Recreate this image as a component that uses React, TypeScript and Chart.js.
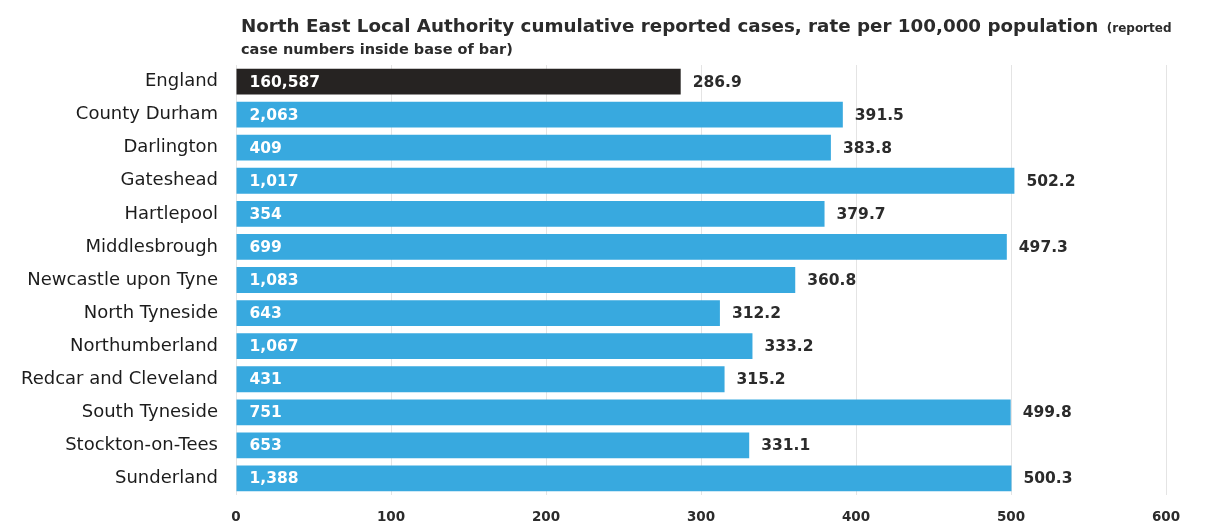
import React, { useEffect, useRef } from "react";
import { Chart, registerables } from "chart.js";

Chart.register(...registerables);

const categories = [
  "England",
  "County Durham",
  "Darlington",
  "Gateshead",
  "Hartlepool",
  "Middlesbrough",
  "Newcastle upon Tyne",
  "North Tyneside",
  "Northumberland",
  "Redcar and Cleveland",
  "South Tyneside",
  "Stockton-on-Tees",
  "Sunderland",
];

const rates = [286.9, 391.5, 383.8, 502.2, 379.7, 497.3, 360.8, 312.2, 333.2, 315.2, 499.8, 331.1, 500.3];

const cases = [160587, 2063, 409, 1017, 354, 699, 1083, 643, 1067, 431, 751, 653, 1388];

const xTicks = [0, 100, 200, 300, 400, 500, 600];

const titleMain = "North East Local Authority cumulative reported cases, rate per 100,000 population";
const titleSmall = "(reported";
const titleLine2 = "case numbers inside base of bar)";

const ENGLAND_COLOR = "#262322";
const LA_COLOR = "#38a9df";
const TEXT_COLOR = "#2b2b2b";
const LABEL_COLOR = "#1c1c1c";
const FONT = "'DejaVu Sans', sans-serif";

const labelPlugin = {
  id: "barLabels",
  afterDatasetsDraw(chart: any) {
    const ctx = chart.ctx;
    const meta = chart.getDatasetMeta(0);
    ctx.save();
    ctx.textBaseline = "middle";
    ctx.textAlign = "left";
    ctx.font = `bold 15.5px ${FONT}`;
    meta.data.forEach((bar: any, i: number) => {
      ctx.fillStyle = TEXT_COLOR;
      ctx.fillText(rates[i].toFixed(1), bar.x + 12, bar.y + 1);
      ctx.fillStyle = "#ffffff";
      ctx.fillText(cases[i].toLocaleString("en-US"), bar.base + 13, bar.y + 1);
    });
    ctx.restore();
  },
};

const titlePlugin = {
  id: "mixedTitle",
  afterDraw(chart: any) {
    const ctx = chart.ctx;
    ctx.save();
    ctx.textBaseline = "alphabetic";
    ctx.textAlign = "left";
    ctx.fillStyle = TEXT_COLOR;
    ctx.font = `bold 18.3px ${FONT}`;
    const x0 = 241;
    ctx.fillText(titleMain, x0, 32);
    const w = ctx.measureText(titleMain + " ").width;
    ctx.font = `bold 12px ${FONT}`;
    ctx.fillText(titleSmall, x0 + w + 2, 32);
    ctx.font = `bold 14.5px ${FONT}`;
    ctx.fillText(titleLine2, x0, 54);
    ctx.restore();
  },
};

export default function App() {
  const canvasRef = useRef<HTMLCanvasElement | null>(null);

  useEffect(() => {
    document.body.style.margin = "0";
    const canvas = canvasRef.current;
    if (!canvas) return;
    const chart = new Chart(canvas, {
      type: "bar",
      data: {
        labels: categories,
        datasets: [
          {
            data: rates,
            backgroundColor: rates.map((_, i) => (i === 0 ? ENGLAND_COLOR : LA_COLOR)),
            barPercentage: 0.78,
            categoryPercentage: 1,
          },
        ],
      },
      options: {
        indexAxis: "y",
        animation: false,
        responsive: false,
        maintainAspectRatio: false,
        layout: { padding: { top: 65, right: 48, bottom: 0, left: 0 } },
        plugins: {
          legend: { display: false },
          tooltip: { enabled: false },
          title: { display: false },
        },
        scales: {
          x: {
            min: 0,
            max: 600,
            afterBuildTicks(scale: any) {
              scale.ticks = xTicks.map((v) => ({ value: v }));
            },
            afterFit(scale: any) {
              scale.height = 34;
            },
            grid: { color: "#e4e4e4", lineWidth: 1, drawTicks: false },
            border: { display: false },
            ticks: {
              padding: 14,
              color: TEXT_COLOR,
              font: { family: FONT, size: 13.5, weight: "bold" },
            },
          },
          y: {
            afterFit(scale: any) {
              scale.width = 236;
            },
            grid: { display: false, drawTicks: false },
            border: { display: false },
            ticks: {
              padding: 18,
              color: LABEL_COLOR,
              font: { family: FONT, size: 18 },
            },
          },
        },
      },
      plugins: [labelPlugin, titlePlugin],
    });
    return () => chart.destroy();
  }, []);

  return (
    <div style={{ width: 1214, height: 529 }}>
      <canvas ref={canvasRef} width={1214} height={529} style={{ display: "block" }} />
    </div>
  );
}
